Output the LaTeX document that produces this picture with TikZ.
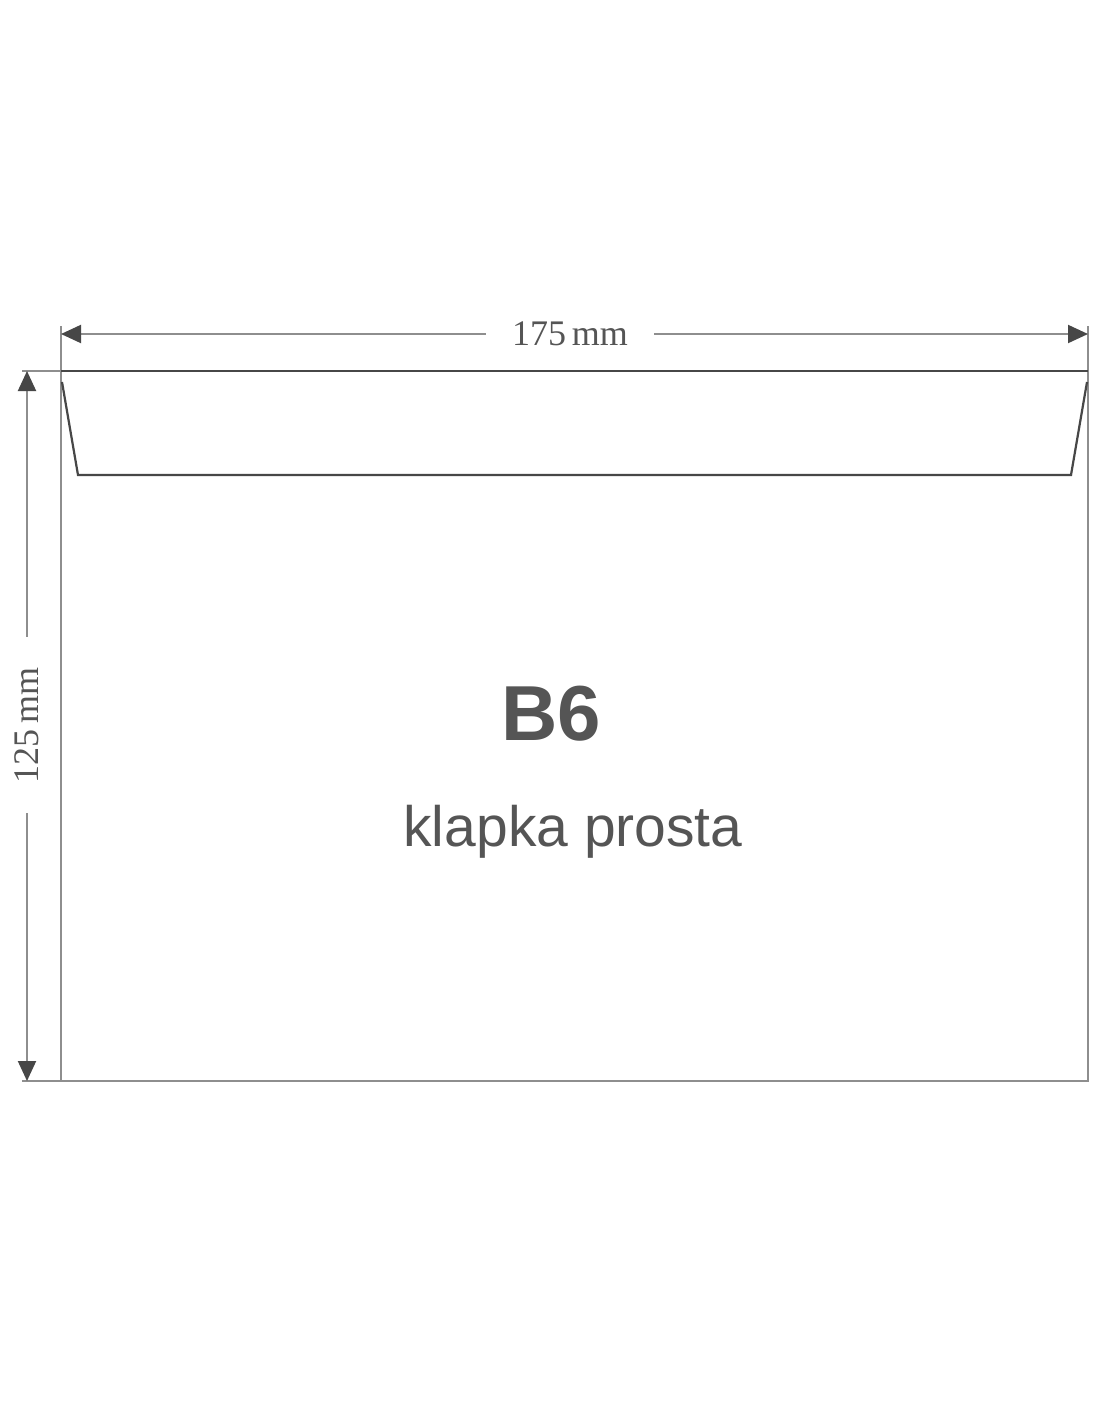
\documentclass[tikz,border=0pt]{standalone}
\usepackage{fontspec}
\setmainfont{Liberation Serif}
\newfontfamily\arialfont{Liberation Sans}
\usetikzlibrary{arrows.meta}
\definecolor{lightln}{HTML}{8E8E8E}
\definecolor{darkln}{HTML}{474747}
\definecolor{txtgray}{HTML}{555555}
\tikzset{
  outline/.style={draw=lightln, line width=2.4pt},
  flapline/.style={draw=darkln, line width=2.2pt},
  dimline/.style={draw=lightln, line width=2pt, -{Triangle[length=20pt,width=18pt,color=darkln]}},
  dimtext/.style={text=txtgray, font=\fontsize{36}{36}\selectfont, inner sep=0pt},
}
\begin{document}
\begin{tikzpicture}[x=1pt,y=-1pt]
\useasboundingbox (0,0) rectangle (1100,1422);
\fill[white] (0,0) rectangle (1100,1422);
% corners
\coordinate (tl) at (61,371);
\coordinate (tr) at (1088,371);
\coordinate (bl) at (61,1081);
\coordinate (br) at (1088,1081);
\coordinate (fl) at (78,475);
\coordinate (fr) at (1071,475);
\coordinate (tlx) at (61,326);
\coordinate (trx) at (1088,326);
\coordinate (tly) at (22,371);
\coordinate (bly) at (22,1081);
\coordinate (ta) at (61,334);
\coordinate (tb) at (1088,334);
\coordinate (la) at (27,371);
\coordinate (lb) at (27,1081);
% envelope body
\draw[outline] (tlx) -- (bl) -- (br) -- (trx);
\draw[outline] (tly) -- (tl);
\draw[outline] (bly) -- (bl);
% flap
\draw[flapline] (tl) -- (tr);
\draw[flapline, line join=miter] (62,382) -- (fl) -- (fr) -- (1087,382);
% dimension texts
\node[dimtext, inner xsep=26pt] (wtext) at (570,334) {175\,mm};
\node[dimtext, rotate=90, inner xsep=30pt] (htext) at (27,725) {125\,mm};
% dimension lines
\draw[dimline] (wtext.west) -- (ta);
\draw[dimline] (wtext.east) -- (tb);
\draw[dimline] (htext.east) -- (la);
\draw[dimline] (htext.west) -- (lb);
% labels
\node[text=txtgray, font=\arialfont\bfseries\fontsize{78}{78}\selectfont, anchor=base, inner sep=0pt] (size) at (551,740) {B6};
\node[text=txtgray, font=\arialfont\fontsize{57}{57}\selectfont, anchor=base, inner sep=0pt] (kind) at (573,846) {klapka prosta};
\end{tikzpicture}
\end{document}
